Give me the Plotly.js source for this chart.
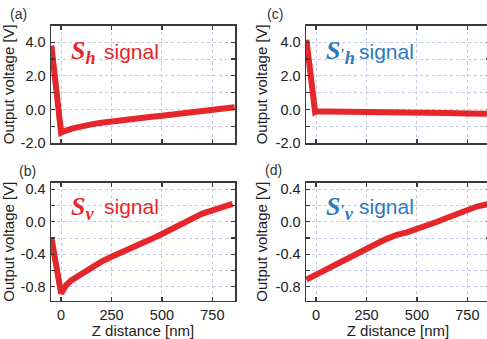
<!DOCTYPE html>
<html>
<head>
<meta charset="utf-8">
<script src="https://cdn.plot.ly/plotly-3.0.1.min.js"></script>
<style>
html,body{margin:0;padding:0;overflow:hidden;background:#fff;}
#chart{width:492px;height:339px;}
</style>
</head>
<body>
<div id="chart"></div>
<script>
// ---- data ----
const xA = [-48, -40, -30, -20, -10, 0, 10, 25, 50, 75, 100, 150, 200, 250, 300, 350, 400, 450, 500, 550, 600, 650, 700, 750, 800, 860];
const yA = [3.8, 2.95, 1.85, 0.75, -0.35, -1.38, -1.32, -1.24, -1.16, -1.08, -1.0, -0.89, -0.79, -0.7, -0.63, -0.56, -0.48, -0.43, -0.37, -0.3, -0.23, -0.16, -0.1, -0.05, 0.03, 0.13];

const xB = [-48, -35, -20, -5, 0, 10, 25, 50, 100, 150, 200, 250, 300, 350, 400, 450, 500, 550, 600, 650, 700, 750, 800, 850];
const yB = [-0.2, -0.4, -0.6, -0.82, -0.88, -0.84, -0.78, -0.72, -0.64, -0.56, -0.49, -0.43, -0.37, -0.31, -0.25, -0.21, -0.15, -0.09, -0.02, 0.05, 0.1, 0.14, 0.18, 0.22];

const xC = [-48, -35, -20, -5, 0, 50, 150, 250, 350, 450, 550, 650, 750, 860];
const yC = [4.15, 3.0, 1.5, -0.15, -0.12, -0.12, -0.15, -0.17, -0.18, -0.2, -0.21, -0.22, -0.24, -0.26];

const xD = [-48, -25, 0, 50, 100, 150, 200, 250, 300, 350, 400, 450, 500, 550, 600, 650, 700, 750, 800, 860];
const yD = [-0.71, -0.68, -0.66, -0.59, -0.51, -0.45, -0.38, -0.32, -0.27, -0.21, -0.16, -0.13, -0.09, -0.04, 0.0, 0.05, 0.1, 0.15, 0.19, 0.22];

const xTickVals = [0, 250, 500, 750];
const xTickText = ["0", "250", "500", "750"];
const yTopTickVals = [-2, 0, 2, 4];
const yTopTickText = ["-2.0", "0.0", "2.0", "4.0"];
const yBotTickVals = [-0.8, -0.4, 0, 0.4];
const yBotTickText = ["-0.8", "-0.4", "0.0", "0.4"];

const panelLetters = ["(a)", "(b)", "(c)", "(d)"];
const signalPrimes = ["", "", "\u2032", "\u2032"];
const signalSubs = ["h", "v", "h", "v"];
const xTitle = "Z distance [nm]";
const yTitle = "Output voltage [V]";

// ---- layout helpers ----
const W = 492, H = 339;
const px = x => x / W;
const py = y => 1 - y / H;

const RED = "#e5262a";
const BLUE = "#2c79bf";
const FRAME = "#3a3a3a";
const GRID = "#c3c9e8";
const SANS = "Liberation Sans, Arial, sans-serif";
const SERIF = "Liberation Serif, Times New Roman, serif";

const colX = [[51, 235], [306, 490]];
const rowY = [[25.5, 143], [182.7, 300.7]];

function trace(x, y, xa, ya) {
  return {x: x, y: y, xaxis: xa, yaxis: ya, type: "scatter", mode: "lines",
    line: {color: RED, width: 6}, hoverinfo: "skip", showlegend: false};
}

const data = [
  trace(xA, yA, "x", "y"),
  trace(xB, yB, "x2", "y2"),
  trace(xC, yC, "x3", "y3"),
  trace(xD, yD, "x4", "y4")
];

function xaxis(col, row, anchor) {
  const bottom = row === 1;
  const ax = {
    domain: [px(colX[col][0]), px(colX[col][1])],
    anchor: anchor, range: [-50, 862],
    tickmode: "array", tickvals: xTickVals, ticktext: xTickText,
    showticklabels: bottom,
    ticks: "inside", ticklen: 4, tickwidth: 1.2, tickcolor: FRAME,
    showline: true, linecolor: FRAME, linewidth: 1.5, mirror: "allticks",
    showgrid: true, gridcolor: GRID, griddash: "dot", gridwidth: 1,
    zeroline: false,
    tickfont: {family: SANS, size: 14.5, color: "#222"}
  };
  if (bottom) ax.title = {text: xTitle, font: {family: SANS, size: 15, color: "#222"}, standoff: 3};
  return ax;
}

function yaxis(col, row, anchor) {
  const top = row === 0;
  return {
    domain: [py(rowY[row][1]), py(rowY[row][0])],
    anchor: anchor,
    range: top ? [-2, 5] : [-0.97, 0.48],
    tickmode: "array",
    tickvals: top ? yTopTickVals : yBotTickVals,
    ticktext: top ? yTopTickText : yBotTickText,
    ticks: "inside", ticklen: 4, tickwidth: 1.2, tickcolor: FRAME,
    showline: true, linecolor: FRAME, linewidth: 1.5, mirror: "allticks",
    showgrid: true, gridcolor: GRID, griddash: "dot", gridwidth: 1,
    zeroline: false,
    minor: {tickmode: "linear", tick0: 0, dtick: top ? 1 : 0.2, ticks: "inside", ticklen: 4,
      tickcolor: FRAME, showgrid: true, gridcolor: GRID, griddash: "dot", gridwidth: 1},
    tickfont: {family: SANS, size: 14.5, color: "#222"},
    ticklabelstandoff: 1,
    title: {text: yTitle, font: {family: SANS, size: 15, color: "#222"}, standoff: 4}
  };
}

const annotations = [];
// panel letters
const letterPos = [[8, 14], [17, 171], [265, 14], [263, 170]];
panelLetters.forEach((t, i) => {
  annotations.push({text: t, xref: "paper", yref: "paper", x: px(letterPos[i][0]), y: py(letterPos[i][1]),
    xanchor: "left", yanchor: "middle", showarrow: false, font: {family: SANS, size: 14, color: "#333"}});
});
// signal labels
const panelsCR = [[0, 0], [0, 1], [1, 0], [1, 1]];
panelsCR.forEach(([c, r], i) => {
  const dx = c === 0 ? 0 : 255;
  const dy = r === 0 ? 0 : 156;
  const col = c === 0 ? RED : BLUE;
  const prime = signalPrimes[i] ? '<span style="font-size:15px">' + signalPrimes[i] + '</span>' : "";
  annotations.push({text: "<b><i>S" + prime + "</i></b><sub><b><i>" + signalSubs[i] + "</i></b></sub>",
    xref: "paper", yref: "paper", x: px(69 + dx), y: py(52 + dy), xanchor: "left", yanchor: "middle",
    showarrow: false, font: {family: SERIF, size: 26, color: col}});
  annotations.push({text: "signal", xref: "paper", yref: "paper", x: px(102 + dx), y: py(51 + dy),
    xanchor: "left", yanchor: "middle", showarrow: false, font: {family: SANS, size: 21, color: col}});
});

const layout = {
  width: W, height: H,
  margin: {l: 0, r: 0, t: 0, b: 0},
  paper_bgcolor: "#fff", plot_bgcolor: "#fff",
  xaxis: xaxis(0, 0, "y"), yaxis: yaxis(0, 0, "x"),
  xaxis2: xaxis(0, 1, "y2"), yaxis2: yaxis(0, 1, "x2"),
  xaxis3: xaxis(1, 0, "y3"), yaxis3: yaxis(1, 0, "x3"),
  xaxis4: xaxis(1, 1, "y4"), yaxis4: yaxis(1, 1, "x4"),
  annotations: annotations,
  showlegend: false
};

Plotly.newPlot("chart", data, layout, {staticPlot: true, displayModeBar: false});
</script>
</body>
</html>
